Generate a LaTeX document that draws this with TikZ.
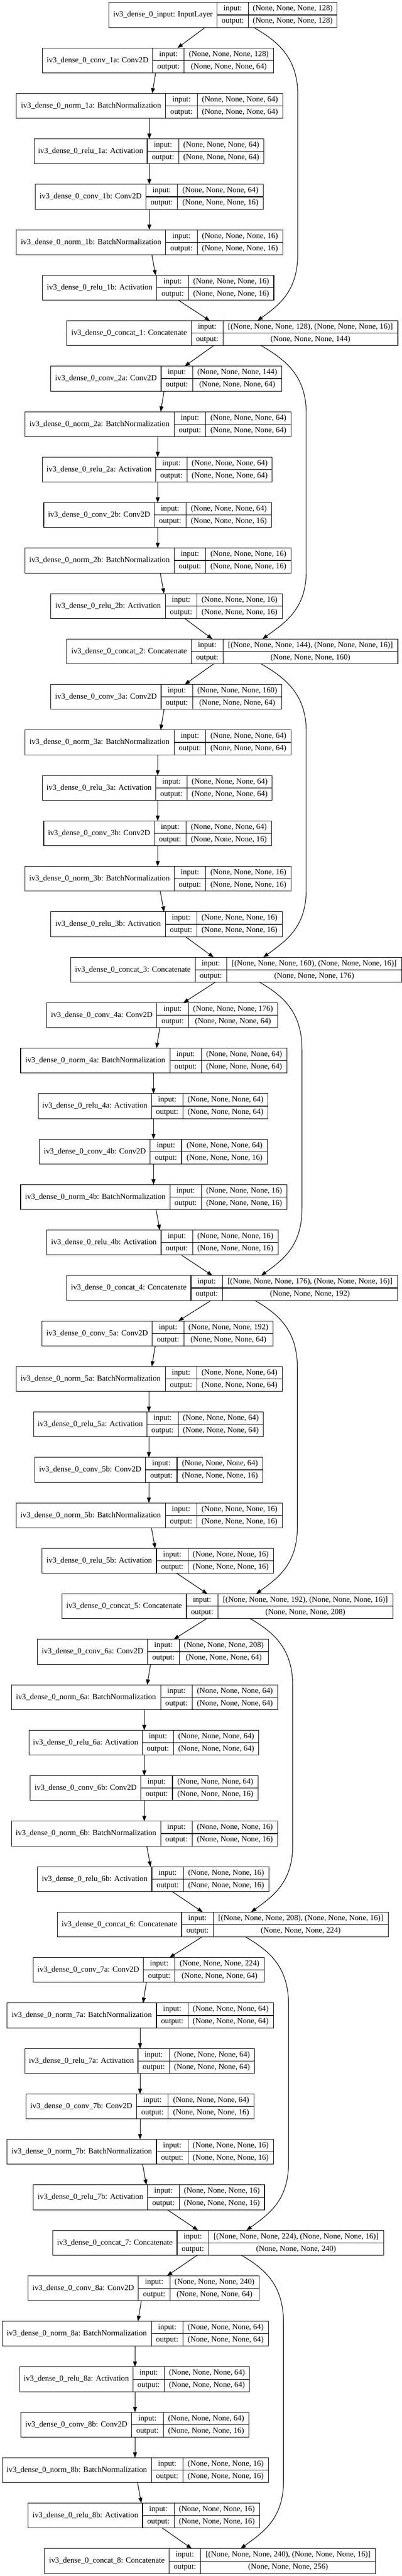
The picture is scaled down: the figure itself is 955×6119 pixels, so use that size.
\documentclass[tikz,border=0pt]{standalone}
\usepackage{fontspec}
\setmainfont{Liberation Serif}
\usetikzlibrary{arrows.meta}

\tikzset{
  cell/.style={draw, line width=1pt, anchor=north west, inner sep=0pt, outer sep=0pt,
    text height=10pt, text depth=3pt, font=\fontsize{14pt}{16pt}\selectfont},
  edge/.style={line width=1pt, -{Triangle[length=9.5pt,width=7pt]}}
}

% one layer record: name, x, y, label, input, output, label width, value width
\newcommand{\layer}[8]{%
  \node[cell, minimum width=#7*0.75pt, minimum height=59*0.75pt] (#1) at (#2,#3) {#4};
  \node[cell, minimum width=75*0.75pt, minimum height=29.5*0.75pt] (#1i) at (#1.north east) {input:};
  \node[cell, minimum width=75*0.75pt, minimum height=29.5*0.75pt] (#1o) at (#1i.south west) {output:};
  \node[cell, minimum width=#8*0.75pt, minimum height=29.5*0.75pt] (#1iv) at (#1i.north east) {#5};
  \node[cell, minimum width=#8*0.75pt, minimum height=29.5*0.75pt] (#1ov) at (#1iv.south west) {#6};
}

\begin{document}
\begin{tikzpicture}[x=0.75pt, y=-0.75pt]

        \useasboundingbox (0,0) rectangle (955,6119);

        \layer{inp}{259}{6}{iv3\_dense\_0\_input: InputLayer}{(None, None, None, 128)}{(None, None, None, 128)}{257}{210}

        \foreach \blk/\n/\cx/\prev/\sa/\ea/\rs/\re/\xs/\xe in
          {1/39/159/inp/488/422/424/499/603/612,
           2/59/159/concat1/508/439/439/505/621/624,
           3/59/168/concat2/508/439/441/508/621/626,
           4/49/158/concat3/512/436/431/505/617/621,
           5/38/147/concat4/502/424/420/493/606/609,
           6/27/136/concat5/491/413/409/482/595/597,
           7/17/125/concat6/480/403/398/471/584/586,
           8/5/106/concat7/469/397/386/456/574/572}{
          \pgfmathtruncatemacro\y{756*\blk-642}
          \pgfmathtruncatemacro\cin{128+16*(\blk-1)}
          \pgfmathtruncatemacro\cout{\cin+16}
          \pgfmathtruncatemacro\ya{756*\blk-691+160}
          \pgfmathtruncatemacro\yb{756*\blk+6-160}

          \layer{conv\blk a}{\n+62}{\y}{iv3\_dense\_0\_conv\_\blk a: Conv2D}{(None, None, None, \cin)}{(None, None, None, 64)}{262}{212}
          \layer{norm\blk a}{\n}{\y+108}{iv3\_dense\_0\_norm\_\blk a: BatchNormalization}{(None, None, None, 64)}{(None, None, None, 64)}{355}{203}
          \layer{relu\blk a}{\n+42}{\y+216}{iv3\_dense\_0\_relu\_\blk a: Activation}{(None, None, None, 64)}{(None, None, None, 64)}{269}{202}
          \layer{conv\blk b}{\n+45}{\y+324}{iv3\_dense\_0\_conv\_\blk b: Conv2D}{(None, None, None, 64)}{(None, None, None, 16)}{263}{204}
          \layer{norm\blk b}{\n}{\y+432}{iv3\_dense\_0\_norm\_\blk b: BatchNormalization}{(None, None, None, 16)}{(None, None, None, 16)}{355}{203}
          \layer{relu\blk b}{\n+62}{\y+540}{iv3\_dense\_0\_relu\_\blk b: Activation}{(None, None, None, 16)}{(None, None, None, 16)}{272}{203}
          \layer{concat\blk}{\cx}{\y+648}{iv3\_dense\_0\_concat\_\blk: Concatenate}{[(None, None, None, \cin), (None, None, None, 16)]}{(None, None, None, \cout)}{296}{416}

          \draw[edge] (\prev.south -| \sa,0) -- (conv\blk a.north -| \ea,0);
          \draw[edge] (conv\blk a.south -| \n+331,0) -- (norm\blk a.north -| \n+323,0);
          \draw[edge] (norm\blk a.south -| \n+316,0) -- (relu\blk a.north -| \n+316,0);
          \draw[edge] (relu\blk a.south -| \n+316,0) -- (conv\blk b.north -| \n+316,0);
          \draw[edge] (conv\blk b.south -| \n+316,0) -- (norm\blk b.north -| \n+316,0);
          \draw[edge] (norm\blk b.south -| \n+322,0) -- (relu\blk b.north -| \n+331,0);
          \draw[edge] (relu\blk b.south -| \rs,0) -- (concat\blk.north -| \re,0);
          \draw[edge] (\prev.south -| \xs,0) .. controls +(55,32) and +(0,-90) .. (\n+669,\ya)
            -- (\n+669,\yb) .. controls +(0,90) and +(52,-38) .. (concat\blk.north -| \xe,0);
        }

    \end{tikzpicture}
\end{document}
